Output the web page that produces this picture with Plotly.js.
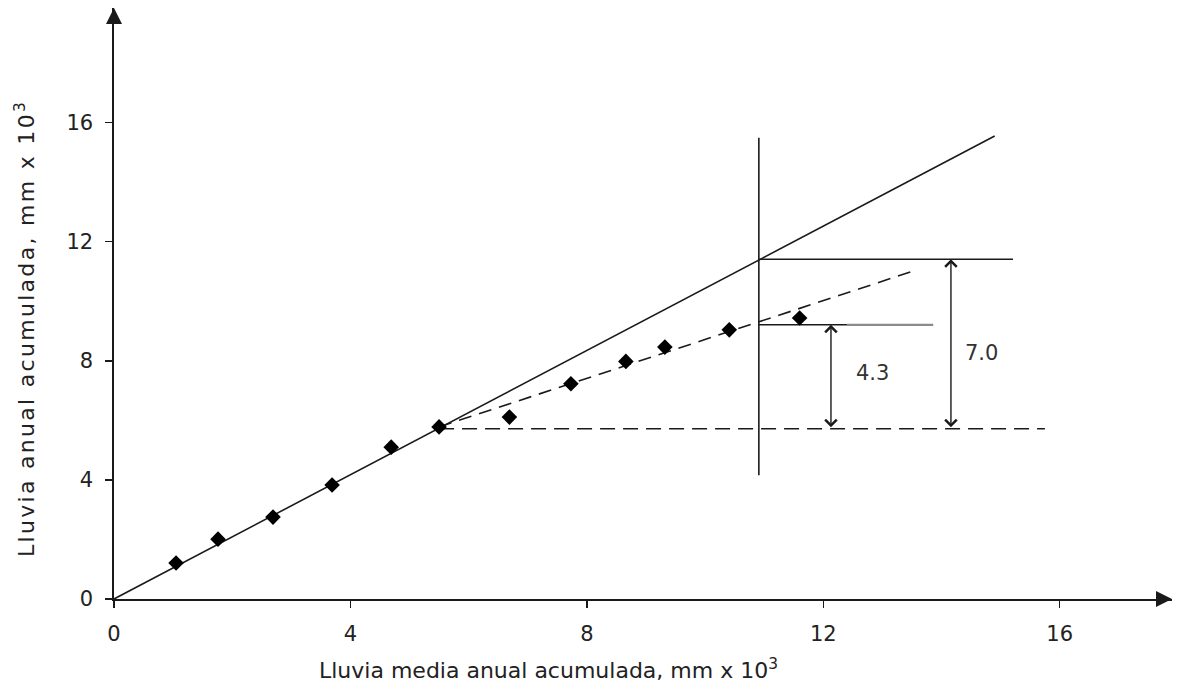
<!DOCTYPE html>
<html>
<head>
<meta charset="utf-8">
<script src="https://cdn.plot.ly/plotly-3.0.1.min.js"></script>
<style>html,body{margin:0;padding:0;background:#fff;}#chart{width:1183px;height:698px;}</style>
</head>
<body>
<div id="chart"></div>
<script>
// Observed points (cumulative mean annual vs cumulative station rainfall, mm x 10^3)
const obsX = [1.05, 1.76, 2.69, 3.69, 4.69, 5.50, 6.69, 7.73, 8.66, 9.32, 10.41, 11.60];
const obsY = [1.21, 2.01, 2.75, 3.83, 5.10, 5.78, 6.11, 7.23, 7.98, 8.46, 9.04, 9.44];

// Construction lines
const mainLineX = [0, 14.9];   const mainLineY = [0, 15.55];
const trendX = [5.5, 13.5];    const trendY = [5.78, 11.0];
const baseX = [5.5, 15.75];    const baseY = [5.72, 5.72];
const vertX = [10.91, 10.91];  const vertY = [4.16, 15.49];
const topX = [10.91, 15.21];   const topY = [11.41, 11.41];
const midX = [10.91, 12.4];    const midY = [9.21, 9.21];
const midGreyX = [12.4, 13.86]; const midGreyY = [9.21, 9.21];

// Dimension arrows
const dimX = [12.13, 14.16];
const dimTop = [9.21, 11.41];
const dimBottom = [5.72, 5.72];
const dimLabels = ["4.3", "7.0"];
const dimLabelX = [12.84, 14.68];
const dimLabelY = [7.58, 8.25];

const tickVals = [0, 4, 8, 12, 16];
const tickText = ["0", "4", "8", "12", "16"];

const ink = '#1a1a1a';
const F = 'DejaVu Sans, Verdana, sans-serif';

function seg(x, y, dash, color, w) {
  return {x: x, y: y, type: 'scatter', mode: 'lines', hoverinfo: 'skip',
          line: {color: color || ink, width: w || 1.6, dash: dash || 'solid'}, showlegend: false};
}

const traces = [
  seg(mainLineX, mainLineY),
  seg(trendX, trendY, '13px,8px'),
  seg(baseX, baseY, '15px,8px'),
  seg(vertX, vertY),
  seg(topX, topY),
  seg(midX, midY),
  seg(midGreyX, midGreyY, 'solid', '#8a8a8a', 2.2),
  {x: obsX, y: obsY, type: 'scatter', mode: 'markers', showlegend: false,
   marker: {symbol: 'diamond', size: 12, color: '#000'}}
];

const annotations = [];
for (let i = 0; i < dimX.length; i++) {
  annotations.push({x: dimX[i], y: dimTop[i], ax: dimX[i], ay: dimBottom[i],
    xref: 'x', yref: 'y', axref: 'x', ayref: 'y', text: '', showarrow: true,
    arrowhead: 4, startarrowhead: 4, arrowside: 'end+start', arrowsize: 1.6, startarrowsize: 1.6,
    arrowwidth: 1.4, arrowcolor: ink, standoff: 0, startstandoff: 0});
  annotations.push({x: dimLabelX[i], y: dimLabelY[i], xref: 'x', yref: 'y', text: dimLabels[i],
    showarrow: false, font: {family: F, size: 21, color: '#333'}});
}
// axis arrowheads
annotations.push({x: 1, y: 0, xref: 'paper', yref: 'paper', ax: -14, ay: 0, text: '', showarrow: true,
  arrowhead: 2, arrowsize: 2, arrowwidth: 1.6, arrowcolor: ink, standoff: 0});
annotations.push({x: 0, y: 1, xref: 'paper', yref: 'paper', ax: 0, ay: 14, text: '', showarrow: true,
  arrowhead: 2, arrowsize: 2, arrowwidth: 1.6, arrowcolor: ink, standoff: 0});
// axis titles
annotations.push({x: (548 - 114) / 1058, y: -70 / 591, xref: 'paper', yref: 'paper',
  text: 'Lluvia media anual acumulada, mm x 10<sup>3</sup>', showarrow: false,
  xanchor: 'center', yanchor: 'middle', font: {family: F, size: 22, color: '#222'}});
annotations.push({x: -89 / 1058, y: (599 - 329) / 591, xref: 'paper', yref: 'paper',
  text: '<span style="letter-spacing:2.3px">Lluvia anual acumulada, mm x 10<sup>3</sup></span>',
  showarrow: false, textangle: -90,
  xanchor: 'center', yanchor: 'middle', font: {family: F, size: 22, color: '#222'}});

const axisCommon = {
  showgrid: false, zeroline: false, showline: true, linecolor: ink, linewidth: 1.6,
  ticks: 'outside', ticklen: 7, tickwidth: 1.4, tickcolor: ink,
  tickvals: tickVals, ticktext: tickText,
  tickfont: {family: F, size: 21, color: '#222'}
};

const layout = {
  width: 1183, height: 698,
  margin: {l: 114, r: 11, t: 8, b: 99},
  paper_bgcolor: '#fff', plot_bgcolor: '#fff',
  showlegend: false,
  xaxis: Object.assign({}, axisCommon, {range: [0, 17.9], ticklabelstandoff: 8}),
  yaxis: Object.assign({}, axisCommon, {range: [0, 19.85], ticklabelstandoff: 8}),
  annotations: annotations
};

Plotly.newPlot('chart', traces, layout, {displayModeBar: false, staticPlot: true});
</script>
</body>
</html>
